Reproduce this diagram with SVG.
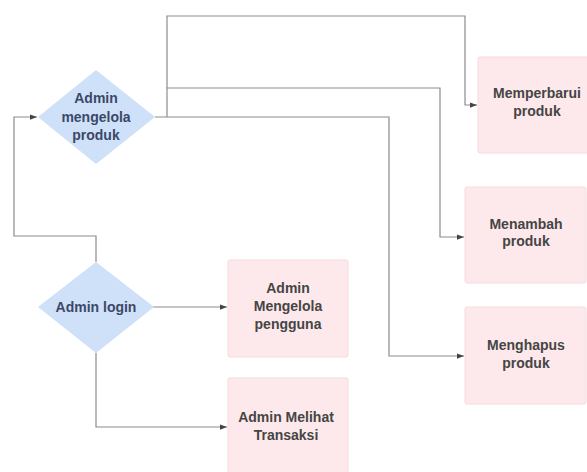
<svg xmlns="http://www.w3.org/2000/svg" width="587" height="472" viewBox="0 0 587 472">
<style>
.dia{fill:#cfe1f9;stroke:none}
.box{fill:#fde9eb;stroke:#f6dade;stroke-width:1}
.dt{font-family:"Liberation Sans",Arial,sans-serif;font-weight:bold;font-size:14px;fill:#3b4868;text-anchor:middle}
.bt{font-family:"Liberation Sans",Arial,sans-serif;font-weight:bold;font-size:14px;fill:#454545;text-anchor:middle}
.ln{fill:none;stroke:#8c8c8c;stroke-width:1.2}
</style>
<defs>
<marker id="ah" viewBox="0 0 8 8" refX="8" refY="4" markerWidth="7" markerHeight="7" markerUnits="userSpaceOnUse" orient="auto">
<path d="M0,1 L8,4 L0,7 Z" fill="#444"/>
</marker>
</defs>
<rect width="587" height="472" fill="#fff"/>
<g id="connectors">
<path class="ln" d="M96,262 V236 H14 V117 H37" marker-end="url(#ah)"/>
<path class="ln" d="M155,117 H389 V356 H464" marker-end="url(#ah)"/>
<path class="ln" d="M167,117 V88 H440 V237 H464" marker-end="url(#ah)"/>
<path class="ln" d="M167,88 V16 H465 V105 H477" marker-end="url(#ah)"/>
<path class="ln" d="M153,307 H227" marker-end="url(#ah)"/>
<path class="ln" d="M96,353 V427 H227" marker-end="url(#ah)"/>
</g>
<g id="n-mengelola-produk">
<polygon class="dia" points="96,70 155,117 96,164 38,117"/>
<text class="dt" x="96" y="103">Admin</text>
<text class="dt" x="96" y="122">mengelola</text>
<text class="dt" x="96" y="140">produk</text>
</g>
<g id="n-login">
<polygon class="dia" points="96,262 154,307 96,353 38,307"/>
<text class="dt" x="96" y="312">Admin login</text>
</g>
<g id="n-memperbarui">
<rect class="box" x="478" y="57" width="124" height="96" rx="2"/>
<text class="bt" x="537" y="98">Memperbarui</text>
<text class="bt" x="537" y="116">produk</text>
</g>
<g id="n-menambah">
<rect class="box" x="465" y="187" width="121" height="96" rx="2"/>
<text class="bt" x="526" y="229">Menambah</text>
<text class="bt" x="526" y="246">produk</text>
</g>
<g id="n-menghapus">
<rect class="box" x="465" y="307" width="121" height="97" rx="2"/>
<text class="bt" x="526" y="350">Menghapus</text>
<text class="bt" x="526" y="368">produk</text>
</g>
<g id="n-pengguna">
<rect class="box" x="228" y="260" width="120" height="97" rx="2"/>
<text class="bt" x="288" y="293">Admin</text>
<text class="bt" x="288" y="311">Mengelola</text>
<text class="bt" x="288" y="329">pengguna</text>
</g>
<g id="n-transaksi">
<rect class="box" x="228" y="378" width="120" height="96" rx="2"/>
<text class="bt" x="286" y="422">Admin Melihat</text>
<text class="bt" x="286" y="440">Transaksi</text>
</g>
</svg>
